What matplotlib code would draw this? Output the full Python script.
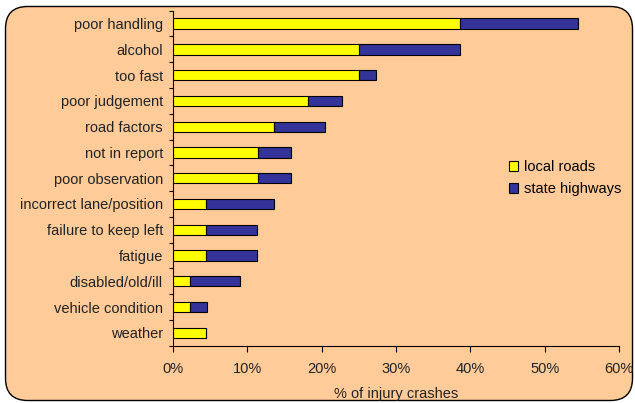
import matplotlib
matplotlib.use("Agg")
import matplotlib.pyplot as plt
from matplotlib.patches import FancyBboxPatch
import numpy as np

plt.rcParams['font.family'] = ['Liberation Sans', 'DejaVu Sans']

# causes of injury crashes, top to bottom
przyczyny = ["poor handling", "alcohol", "too fast", "poor judgement", "road factors",
             "not in report", "poor observation", "incorrect lane/position",
             "failure to keep left", "fatigue", "disabled/old/ill",
             "vehicle condition", "weather"]
lokalne = [38.6, 25.0, 25.0, 18.2, 13.6, 11.4, 11.4, 4.5, 4.5, 4.5, 2.3, 2.3, 4.5]
stanowe = [15.9, 13.6, 2.3, 4.5, 6.8, 4.5, 4.5, 9.1, 6.8, 6.8, 6.8, 2.3, 0.0]
etykiety_x = ["0%", "10%", "20%", "30%", "40%", "50%", "60%"]

W, H = 635, 403
fs = 10.5
fig = plt.figure(figsize=(W / 100, H / 100), dpi=100)

# tlo - zaokraglony prostokat
tlo = FancyBboxPatch((5.5 / W, 2.5 / H), 627 / W, 394 / H,
                     boxstyle="round,pad=0,rounding_size=0.035",
                     transform=fig.transFigure, facecolor="#FFCC99",
                     edgecolor="black", linewidth=1.0, mutation_aspect=W / H,
                     zorder=-10)
fig.patches.append(tlo)

ax = fig.add_axes([172.7 / W, (H - 345.7) / H, (619.3 - 172.7) / W, (345.7 - 10.7) / H])
ax.set_facecolor("none")

y = np.arange(len(przyczyny))
ax.barh(y, lokalne, height=0.4, color="#FFFF00", edgecolor="black",
        linewidth=0.8, label="local roads")
ax.barh(y, stanowe, left=lokalne, height=0.4, color="#333399", edgecolor="black",
        linewidth=0.8, label="state highways")

ax.set_ylim(len(przyczyny) - 0.5, -0.5)
ax.set_xlim(0, 60)
ax.set_yticks(y)
ax.set_yticklabels(przyczyny, fontsize=fs, color="#222222")
ax.set_yticks(np.arange(-0.5, len(przyczyny), 1), minor=True)
ax.tick_params(axis="y", which="major", length=0, pad=7)
ax.tick_params(axis="y", which="minor", length=3, width=0.8, direction="out")
ax.set_xticks(np.arange(0, 61, 10))
ax.set_xticklabels(etykiety_x, fontsize=fs, color="#222222")
ax.tick_params(axis="x", length=4, width=0.8, direction="out", pad=8)
ax.set_xlabel("% of injury crashes", fontsize=fs, color="#222222", labelpad=8)

for s in ["top", "right"]:
    ax.spines[s].set_visible(False)
ax.spines["left"].set_linewidth(0.8)
ax.spines["bottom"].set_linewidth(0.8)

ax.legend(loc="upper left", bbox_to_anchor=(496 / W, 1 - 147 / H),
          bbox_transform=fig.transFigure, frameon=False, fontsize=fs,
          handlelength=0.6, handleheight=0.6, handletextpad=0.4, labelspacing=0.55)

fig.savefig("out.png", dpi=100)
